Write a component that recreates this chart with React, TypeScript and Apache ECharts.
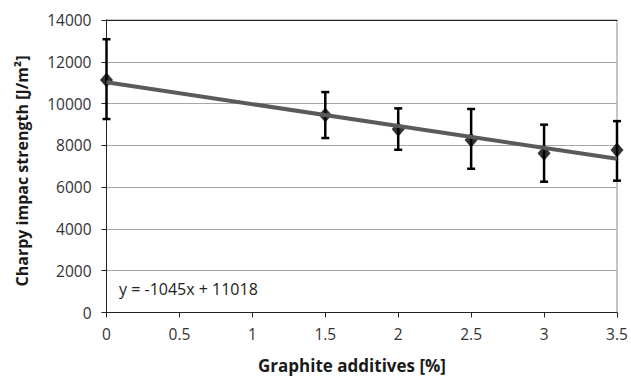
import React, { useEffect, useRef } from "react";
import * as echarts from "echarts";

const graphiteX = [0, 1.5, 2, 2.5, 3, 3.5];
const strengthMean = [11130, 9450, 8770, 8260, 7620, 7780];
const errLow = [9260, 8350, 7790, 6880, 6260, 6310];
const errHigh = [13080, 10550, 9770, 9740, 8990, 9160];
const trendSlope = -1045;
const trendIntercept = 11018;
const trendX = [0, 3.5];
const equationLabel = "y = -1045x + 11018";
const xTitle = "Graphite additives [%]";
const yTitle = "Charpy impac strength [J/m\u00b2]";

const FONT = "'Open Sans', sans-serif";

export default function App() {
  const ref = useRef<HTMLDivElement>(null);
  useEffect(() => {
    if (!ref.current) return;
    const chart = echarts.init(ref.current, undefined, { renderer: "svg" });
    const errData = graphiteX.map((x, i) => [x, strengthMean[i], errLow[i], errHigh[i]]);
    const trendData = trendX.map((x) => [x, trendSlope * x + trendIntercept]);
    chart.setOption({
      animation: false,
      backgroundColor: "#fff",
      textStyle: { fontFamily: FONT },
      grid: { left: 106.5, right: 14, top: 20, bottom: 65.5, show: true, borderColor: "#8c8c8c", borderWidth: 1 },
      xAxis: [
        {
          type: "value",
          min: 0,
          max: 3.5,
          interval: 0.5,
          axisLine: { lineStyle: { color: "#222", width: 1 } },
          axisTick: { show: true, length: 5, lineStyle: { color: "#222" } },
          axisLabel: { fontSize: 15.5, color: "#333", margin: 13, fontFamily: FONT },
          splitLine: { show: false },
        },
        {
          type: "value",
          position: "top",
          min: 0,
          max: 3.5,
          axisLine: { show: true, lineStyle: { color: "#222", width: 1 } },
          axisTick: { show: false },
          axisLabel: { show: false },
          splitLine: { show: false },
        },
      ],
      yAxis: {
        type: "value",
        min: 0,
        max: 14000,
        interval: 2000,
        axisLine: { show: true, lineStyle: { color: "#222", width: 1 } },
        axisTick: { show: true, length: 5, lineStyle: { color: "#222" } },
        axisLabel: { fontSize: 15.5, color: "#333", margin: 15, fontFamily: FONT, formatter: (v: number) => String(v) },
        splitLine: { show: true, lineStyle: { color: "#a6a6a6", width: 1 } },
      },
      series: [
        {
          type: "custom",
          z: 2,
          data: errData,
          renderItem: (params: any, api: any) => {
            const x = api.value(0);
            const lo = api.coord([x, api.value(2)]);
            const hi = api.coord([x, api.value(3)]);
            const cap = 4;
            const style = { stroke: "#000", lineWidth: 2.5 };
            return {
              type: "group",
              children: [
                { type: "line", shape: { x1: hi[0], y1: hi[1], x2: lo[0], y2: lo[1] }, style },
                { type: "line", shape: { x1: hi[0] - cap, y1: hi[1], x2: hi[0] + cap, y2: hi[1] }, style },
                { type: "line", shape: { x1: lo[0] - cap, y1: lo[1], x2: lo[0] + cap, y2: lo[1] }, style },
              ],
            };
          },
        },
        {
          type: "scatter",
          z: 3,
          symbol: "diamond",
          symbolSize: [13, 15],
          itemStyle: { color: "#000" },
          data: graphiteX.map((x, i) => [x, strengthMean[i]]),
        },
        {
          type: "line",
          z: 4,
          data: trendData,
          showSymbol: false,
          symbol: "none",
          lineStyle: { color: "#5a5a5a", width: 4 },
        },
      ],
      graphic: [
        {
          type: "text",
          left: 119,
          top: 281,
          style: { text: equationLabel, fontSize: 16, fill: "#222", fontFamily: FONT },
        },
        {
          type: "text",
          x: 352,
          y: 365,
          style: {
            text: xTitle,
            fontSize: 17,
            fontWeight: "bold",
            fill: "#1a1a1a",
            fontFamily: FONT,
            textAlign: "center",
            textVerticalAlign: "middle",
          },
        },
        {
          type: "text",
          x: 22,
          y: 171,
          rotation: Math.PI / 2,
          style: {
            text: yTitle,
            fontSize: 16,
            fontWeight: "bold",
            fill: "#1a1a1a",
            fontFamily: FONT,
            textAlign: "center",
            textVerticalAlign: "middle",
          },
        },
      ],
    });
    return () => chart.dispose();
  }, []);
  return <div ref={ref} style={{ width: 631, height: 378, position: "absolute", left: 0, top: 0 }} />;
}
